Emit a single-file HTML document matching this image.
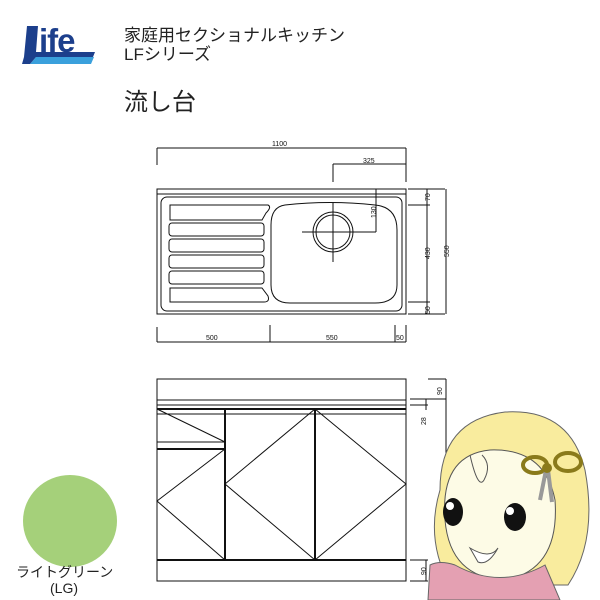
<!DOCTYPE html>
<html><head><meta charset="utf-8"><style>
body{margin:0;background:#fff;width:600px;height:600px;overflow:hidden;position:relative;font-family:"Liberation Sans","Noto Sans CJK JP",sans-serif}
.t{position:absolute;color:#222;white-space:nowrap}
</style></head><body>
<svg width="600" height="600" style="position:absolute;left:0;top:0" font-family="Liberation Sans, sans-serif">
<!-- logo -->
<polygon points="27,26 38,26 36,52 95,52 93,57 24,57" fill="#1c3f8c"/>
<polygon points="36,57 94,57 91,64 30,64" fill="#3aa0dc"/>
<polygon points="24,57 36,57 30,64 22,64" fill="#1c3f8c"/>
<text x="39" y="52" font-size="33" font-weight="bold" fill="#1c3f8c" letter-spacing="-1">ife</text>
<!-- top view -->
<g stroke="#111" fill="none" stroke-width="1">
<line x1="157" y1="148" x2="406" y2="148"/><line x1="157" y1="148" x2="157" y2="165"/><line x1="406" y1="148" x2="406" y2="182"/>
<line x1="333" y1="164" x2="406" y2="164"/><line x1="333" y1="164" x2="333" y2="182"/>
<rect x="157" y="189" width="249" height="125"/>
<line x1="157" y1="194" x2="406" y2="194"/>
<rect x="161" y="197" width="241" height="114" rx="6"/>
<path d="M170,205 H268 Q272,207 266,213 L262,220 H170 Z" />
<rect x="169" y="223" width="95" height="13" rx="3"/>
<rect x="169" y="239" width="95" height="13" rx="3"/>
<rect x="169" y="255" width="95" height="13" rx="3"/>
<rect x="169" y="271" width="95" height="13" rx="3"/>
<path d="M170,288 H262 L268,296 Q270,302 264,302 H170 Z"/>
<path d="M285,205 Q330,200 375,205 Q397,207 397,230 V285 Q397,303 375,303 H290 Q271,303 271,285 V225 Q271,207 285,205 Z"/>
<circle cx="333" cy="232" r="20"/><circle cx="333" cy="232" r="17"/>
<line x1="302" y1="232" x2="376" y2="232"/><line x1="333" y1="202" x2="333" y2="262"/>
<line x1="376" y1="189" x2="376" y2="232"/>
<line x1="408" y1="189" x2="445" y2="189"/><line x1="408" y1="205" x2="430" y2="205"/><line x1="408" y1="302" x2="430" y2="302"/><line x1="408" y1="314" x2="445" y2="314"/>
<line x1="427" y1="189" x2="427" y2="314"/><line x1="446" y1="189" x2="446" y2="314"/>
<line x1="157" y1="327" x2="157" y2="342"/><line x1="270" y1="325" x2="270" y2="342"/><line x1="395" y1="325" x2="395" y2="342"/><line x1="406" y1="325" x2="406" y2="342"/>
<line x1="157" y1="342" x2="406" y2="342"/>
</g>
<g fill="#111" font-size="7">
<text x="272" y="146">1100</text><text x="363" y="163">325</text>
<text x="206" y="340">500</text><text x="326" y="340">550</text><text x="396" y="340">50</text>
<text transform="translate(376,218) rotate(-90)">130</text>
<text transform="translate(430,201) rotate(-90)">70</text>
<text transform="translate(430,259) rotate(-90)">430</text>
<text transform="translate(430,314) rotate(-90)">50</text>
<text transform="translate(449,257) rotate(-90)">550</text>
</g>
<!-- front view -->
<g stroke="#111" fill="none" stroke-width="1">
<rect x="157" y="379" width="249" height="202"/>
<line x1="157" y1="400" x2="406" y2="400"/><line x1="157" y1="405" x2="406" y2="405"/>
<line x1="157" y1="409" x2="406" y2="409" stroke-width="2"/>
<line x1="157" y1="414" x2="406" y2="414"/>
<line x1="225" y1="409" x2="225" y2="560" stroke-width="2"/>
<line x1="315" y1="409" x2="315" y2="560" stroke-width="2"/>
<line x1="157" y1="442" x2="225" y2="442"/><line x1="157" y1="449" x2="225" y2="449" stroke-width="2"/>
<line x1="157" y1="560" x2="406" y2="560" stroke-width="2"/>
<polyline points="315,409 225,484 315,560 406,484 315,409"/>
<line x1="157" y1="409" x2="225" y2="442"/>
<polyline points="225,449 157,501 225,560"/>
<line x1="428" y1="379" x2="446" y2="379"/><line x1="410" y1="399" x2="446" y2="399"/><line x1="410" y1="405" x2="428" y2="405"/>
<line x1="446" y1="379" x2="446" y2="470"/><line x1="426" y1="399" x2="426" y2="410"/>
<line x1="410" y1="560" x2="428" y2="560"/><line x1="410" y1="581" x2="428" y2="581"/><line x1="426" y1="560" x2="426" y2="581"/>
</g>
<g fill="#111" font-size="7">
<text transform="translate(442,395) rotate(-90)">90</text>
<text transform="translate(426,425) rotate(-90)">28</text>
<text transform="translate(426,575) rotate(-90)">90</text>
</g>
<!-- character -->
<path d="M440,490 Q440,420 505,412 Q570,408 585,470 Q598,540 568,585 L450,585 Q425,540 440,490 Z" fill="#f9ec9e" stroke="#666"/>
<path d="M445,520 Q440,455 490,450 Q545,448 555,500 Q560,570 505,580 Q450,578 445,520 Z" fill="#fdfbe6" stroke="#555"/>
<path d="M470,455 Q478,490 484,480 Q492,465 482,455" fill="none" stroke="#555"/>
<path d="M428,600 L430,565 Q440,560 455,565 Q500,590 545,565 L560,600 Z" fill="#e4a0b2" stroke="#666"/>
<ellipse cx="453" cy="512" rx="10" ry="14" fill="#111"/><ellipse cx="515" cy="517" rx="11" ry="14" fill="#111"/>
<circle cx="450" cy="506" r="4" fill="#fff"/><circle cx="510" cy="511" r="4" fill="#fff"/>
<path d="M470,548 Q490,560 498,548 Q488,566 478,562 Z" fill="#fff" stroke="#555"/>
<g fill="none" stroke="#8a7a1a" stroke-width="4"><ellipse cx="535" cy="465" rx="12" ry="8"/><ellipse cx="568" cy="462" rx="13" ry="9"/></g>
<g stroke="#999" stroke-width="4"><line x1="546" y1="470" x2="540" y2="500"/><line x1="548" y1="470" x2="552" y2="502"/></g>
<circle cx="547" cy="468" r="5" fill="#8a7a1a"/>
<!-- color swatch -->
<ellipse cx="70" cy="521" rx="47" ry="46" fill="#a5d07a"/>
</svg>
<div class="t" style="left:124px;top:26px;font-size:17px;line-height:19px">家庭用セクショナルキッチン<br>LFシリーズ</div>
<div class="t" style="left:124px;top:82px;font-size:24px">流し台</div>
<div class="t" style="left:16px;top:562px;font-size:14px">ライトグリーン</div>
<div class="t" style="left:50px;top:580px;font-size:14px">(LG)</div>
</body></html>
